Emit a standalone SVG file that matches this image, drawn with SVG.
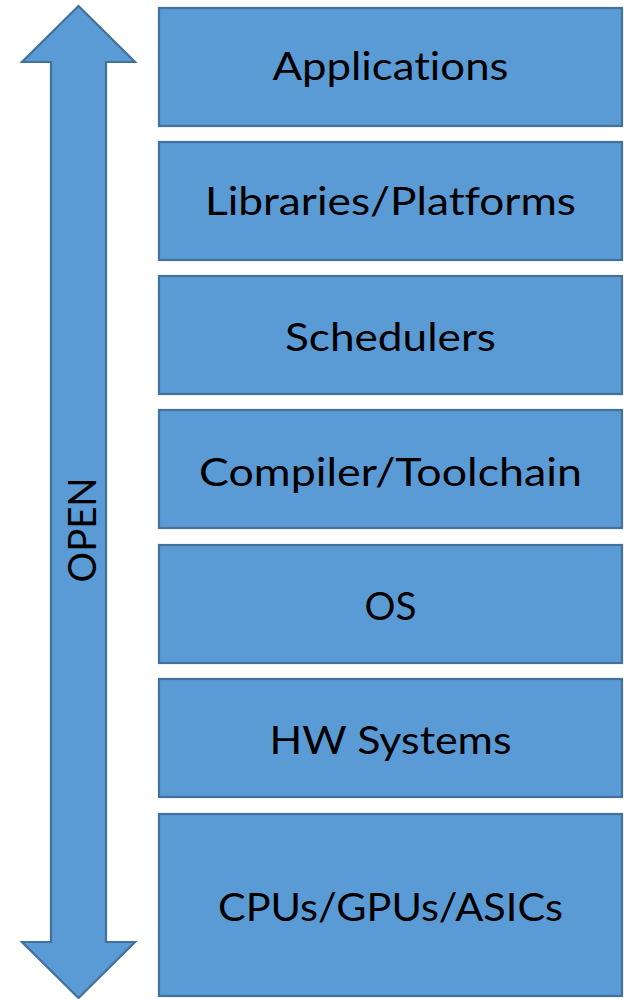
<svg xmlns="http://www.w3.org/2000/svg" width="627" height="999" viewBox="0 0 627 999">
<style>
.box{fill:#5B9BD5;stroke:#41719C;stroke-width:2.2}
.lbl{font-family:Lato,"Liberation Sans",sans-serif;font-size:39px;fill:#000;text-anchor:middle;font-variant-ligatures:none;font-feature-settings:"liga" 0}
</style>
<rect width="627" height="999" fill="#fff"/>
<g id="arrow-open">
<polygon class="box" points="78.5,6 135,62 106,62 106,942 135,942 78.5,998 22,942 51,942 51,62 22,62"/>
<text class="lbl" transform="translate(96,530) rotate(-90)" textLength="105" lengthAdjust="spacingAndGlyphs">OPEN</text>
</g>
<g id="connectors"></g>
<g id="applications">
<rect class="box" x="159" y="8" width="463" height="118"/>
<text class="lbl" x="390.5" y="80" textLength="236" lengthAdjust="spacingAndGlyphs">Applications</text>
</g>
<g id="libraries">
<rect class="box" x="159" y="142" width="463" height="118"/>
<text class="lbl" x="390.5" y="215" textLength="371" lengthAdjust="spacingAndGlyphs">Libraries/Platforms</text>
</g>
<g id="schedulers">
<rect class="box" x="159" y="276" width="463" height="118"/>
<text class="lbl" x="390.5" y="351" textLength="211" lengthAdjust="spacingAndGlyphs">Schedulers</text>
</g>
<g id="compiler">
<rect class="box" x="159" y="410" width="463" height="118"/>
<text class="lbl" x="390.5" y="486" textLength="383" lengthAdjust="spacingAndGlyphs">Compiler/Toolchain</text>
</g>
<g id="os">
<rect class="box" x="159" y="545" width="463" height="118"/>
<text class="lbl" x="390.5" y="620" textLength="52" lengthAdjust="spacingAndGlyphs">OS</text>
</g>
<g id="hw-systems">
<rect class="box" x="159" y="679" width="463" height="118"/>
<text class="lbl" x="390.5" y="754" textLength="242" lengthAdjust="spacingAndGlyphs">HW Systems</text>
</g>
<g id="cpus">
<rect class="box" x="159" y="814" width="463" height="182"/>
<text class="lbl" x="390.5" y="921" textLength="345" lengthAdjust="spacingAndGlyphs">CPUs/GPUs/ASICs</text>
</g>
</svg>
